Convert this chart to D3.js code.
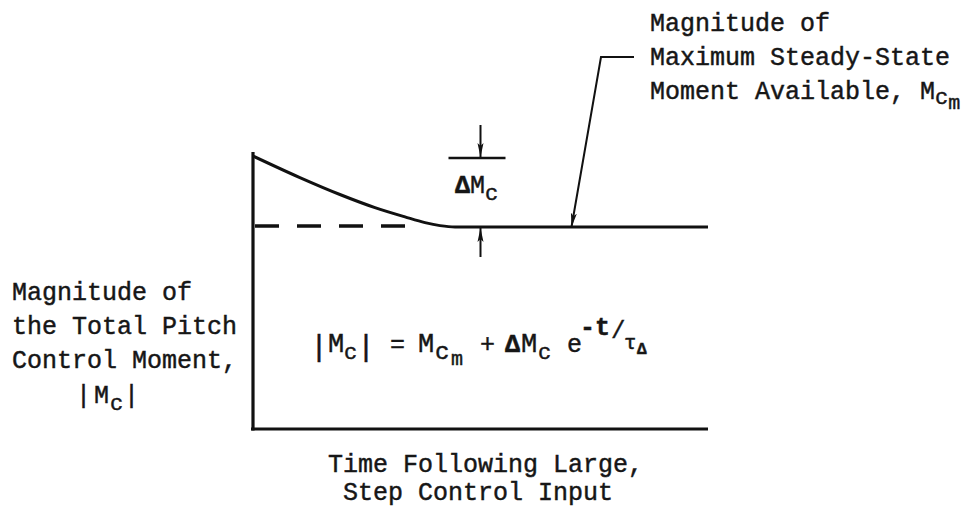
<!DOCTYPE html>
<html>
<head>
<meta charset="utf-8">
<script src="https://cdn.jsdelivr.net/npm/d3@7/dist/d3.min.js"></script>
<style>
  html, body { margin: 0; padding: 0; background: #fff; }
  svg { display: block; }
  text { font-family: "Liberation Mono", "Courier New", monospace; fill: #161616;
         stroke: #161616; stroke-width: 0.45px; }
</style>
</head>
<body>
<svg id="chart" width="970" height="510"></svg>
<script>
// Pitch control moment after a large step input (arbitrary units)
const timeValues   = [0, 10.3, 19.1, 26.8, 33.4, 37.8, 41.1, 44.4, 100];
const momentValues = [100, 92.1, 85.9, 81.1, 77.7, 75.6, 74.5, 74.0, 74.0];
const steadyMoment = 74;      // M_cm
const peakMoment = 100;       // M_cm + ΔM_c
const dashEndTime = 35;       // dashed extension of M_cm toward t = 0
const deltaArrowTime = 50;    // where the ΔM_c dimension arrows sit
const leaderTime = 70;        // where the M_cm callout points

const leftLabel = ["Magnitude of", "the Total Pitch", "Control Moment,"];
const calloutLabel = ["Magnitude of", "Maximum Steady-State", "Moment Available, M"];
const xLabel = ["Time Following Large,", "Step Control Input"];

const svg = d3.select("#chart");
const x = d3.scaleLinear().domain([0, 100]).range([253, 708]);
const y = d3.scaleLinear().domain([0, 100]).range([429, 156]);

// arrowhead
svg.append("defs").append("marker")
  .attr("id", "head").attr("viewBox", "0 0 14 8")
  .attr("refX", 14).attr("refY", 4)
  .attr("markerWidth", 14).attr("markerHeight", 8)
  .attr("markerUnits", "userSpaceOnUse")
  .attr("orient", "auto")
  .append("path").attr("d", "M0,1 L14,4 L0,7 L3,4 Z").attr("fill", "#111");

// axes without ticks
svg.append("g").attr("transform", `translate(${x(0)},0)`)
  .call(d3.axisLeft(y).tickValues([]).tickSizeOuter(0))
  .call(g => g.select(".domain").attr("stroke", "#111").attr("stroke-width", 3.2)
    .attr("d", `M0,${y(0) + 1.5}V${y(peakMoment) - 4}`));
svg.append("g").attr("transform", `translate(0,${y(0)})`)
  .call(d3.axisBottom(x).tickValues([]).tickSizeOuter(0))
  .call(g => g.select(".domain").attr("stroke", "#111").attr("stroke-width", 3.2)
    .attr("d", `M${x(0) - 2},0H${x(100)}`));

// dashed M_cm extension
svg.append("line")
  .attr("x1", x(0) + 2).attr("x2", x(dashEndTime))
  .attr("y1", y(steadyMoment) - 1).attr("y2", y(steadyMoment) - 1)
  .attr("stroke", "#111").attr("stroke-width", 3.5)
  .attr("stroke-dasharray", "24,18");

// moment curve
const pts = timeValues.map((t, i) => [t, momentValues[i]]);
svg.append("path").datum(pts)
  .attr("fill", "none").attr("stroke", "#111").attr("stroke-width", 3)
  .attr("stroke-linejoin", "round")
  .attr("d", d3.line().x(d => x(d[0])).y(d => y(d[1])).curve(d3.curveMonotoneX));

// ΔM_c dimension: reference bar and two arrows
const ax = x(deltaArrowTime);
svg.append("line")
  .attr("x1", ax - 32).attr("x2", ax + 25)
  .attr("y1", y(peakMoment) + 2).attr("y2", y(peakMoment) + 2)
  .attr("stroke", "#111").attr("stroke-width", 2.5);
svg.append("line")
  .attr("x1", ax).attr("x2", ax)
  .attr("y1", y(peakMoment) - 31).attr("y2", y(peakMoment) + 1)
  .attr("stroke", "#111").attr("stroke-width", 2)
  .attr("marker-end", "url(#head)");
svg.append("line")
  .attr("x1", ax).attr("x2", ax)
  .attr("y1", y(steadyMoment) + 30).attr("y2", y(steadyMoment) + 1)
  .attr("stroke", "#111").attr("stroke-width", 2)
  .attr("marker-end", "url(#head)");

// ΔM_c label
const dl = svg.append("text").attr("x", 455).attr("y", 193).attr("font-size", 25);
dl.append("tspan").attr("font-weight", "bold").text("Δ");
dl.append("tspan").text("M");
dl.append("tspan").attr("font-size", 22).attr("dy", 7).text("c");

// callout leader to M_cm line
const lx = x(leaderTime);
svg.append("path")
  .attr("d", `M634,57 H601 L${lx},${y(steadyMoment)}`)
  .attr("fill", "none").attr("stroke", "#111").attr("stroke-width", 2)
  .attr("marker-end", "url(#head)");

// callout text
calloutLabel.forEach((s, i) => {
  const t = svg.append("text").attr("x", 650).attr("y", 31 + i * 34).attr("font-size", 25).text(s);
  if (i === 2) {
    t.append("tspan").attr("font-size", 22).attr("dy", 5).text("c");
    t.append("tspan").attr("font-size", 20).attr("dy", 5).text("m");
  }
});

// y label
leftLabel.forEach((s, i) => {
  svg.append("text").attr("x", 12).attr("y", 300 + i * 34).attr("font-size", 25).text(s);
});

// one text element built from positioned pieces: [x, dy-from-baseline, string, size, bold]
const pieced = (baseY, pieces) => {
  const t = svg.append("text").attr("y", baseY);
  pieces.forEach(([px, off, s, fs, bold]) => {
    const sp = t.append("tspan").attr("x", px).attr("y", baseY + off)
      .attr("font-size", fs).text(s);
    if (bold) sp.attr("font-weight", "bold");
  });
  return t;
};

pieced(403, [
  [76, 0, "|", 25], [94, 0, "M", 25], [110, 7, "c", 22], [124, 0, "|", 25]
]);

// formula |M_c| = M_cm + ΔM_c e^(-t/τ_Δ)
pieced(352, [
  [310, 4, "|", 30], [328, 0, "M", 27], [344, 7, "c", 22], [357, 4, "|", 30],
  [390, 0, "=", 25],
  [418, 0, "M", 27], [435, 7, "c", 24], [451, 13, "m", 20],
  [480, 0, "+", 25],
  [505, 0, "Δ", 25, true], [521, 0, "M", 27], [538, 7, "c", 22],
  [567, 0, "e", 25],
  [580, -17, "-t", 25, true], [611, -14, "/", 24],
  [624, -3, "τ", 21], [637, 2, "Δ", 16, true]
]);

// x label
svg.append("text").attr("x", 328).attr("y", 472).attr("font-size", 25).text(xLabel[0]);
svg.append("text").attr("x", 343).attr("y", 500).attr("font-size", 25).text(xLabel[1]);
</script>
</body>
</html>
